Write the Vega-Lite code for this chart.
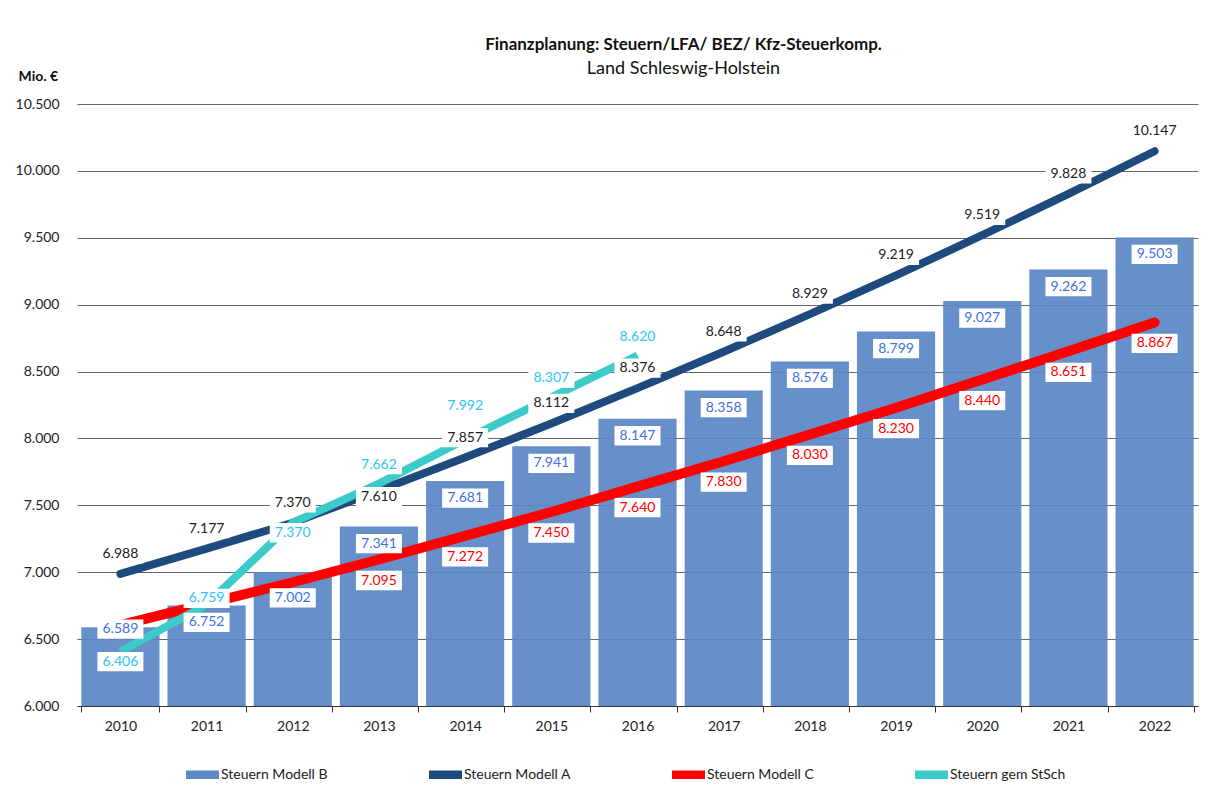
{
  "$schema": "https://vega.github.io/schema/vega-lite/v6.json",
  "width": 1121,
  "height": 602,
  "autosize": {"type": "none"},
  "padding": {"left": 77, "top": 104, "right": 18, "bottom": 85},
  "background": "white",
  "config": {
    "locale": {"number": {"decimal": ",", "thousands": ".", "grouping": [3], "currency": ["", " €"]}},
    "font": "Lato",
    "view": {"stroke": null}
  },
  "title": {
    "text": "Finanzplanung:  Steuern/LFA/ BEZ/ Kfz-Steuerkomp.",
    "subtitle": "Land Schleswig-Holstein",
    "frame": "group",
    "anchor": "middle",
    "dx": 46,
    "offset": -10,
    "font": "Lato",
    "fontSize": 17,
    "fontWeight": "bold",
    "color": "#111111",
    "subtitleFont": "Lato",
    "subtitleFontSize": 18,
    "subtitleColor": "#111111",
    "subtitlePadding": 6
  },
  "data": {
    "values": [
      {"year": 2010, "B": 6589, "A": 6988, "C": 6605, "S": 6406},
      {"year": 2011, "B": 6752, "A": 7177, "C": 6765, "S": 6759},
      {"year": 2012, "B": 7002, "A": 7370, "C": 6925, "S": 7370},
      {"year": 2013, "B": 7341, "A": 7610, "C": 7095, "S": 7662},
      {"year": 2014, "B": 7681, "A": 7857, "C": 7272, "S": 7992},
      {"year": 2015, "B": 7941, "A": 8112, "C": 7450, "S": 8307},
      {"year": 2016, "B": 8147, "A": 8376, "C": 7640, "S": 8620},
      {"year": 2017, "B": 8358, "A": 8648, "C": 7830, "S": null},
      {"year": 2018, "B": 8576, "A": 8929, "C": 8030, "S": null},
      {"year": 2019, "B": 8799, "A": 9219, "C": 8230, "S": null},
      {"year": 2020, "B": 9027, "A": 9519, "C": 8440, "S": null},
      {"year": 2021, "B": 9262, "A": 9828, "C": 8651, "S": null},
      {"year": 2022, "B": 9503, "A": 10147, "C": 8867, "S": null}
    ]
  },
  "encoding": {
    "x": {
      "field": "year",
      "type": "ordinal",
      "scale": {"paddingInner": 0.093, "paddingOuter": 0.05},
      "axis": {
        "title": null,
        "labelAngle": 0,
        "tickBand": "extent",
        "domainColor": "#333333",
        "tickColor": "#333333",
        "tickSize": 6,
        "labelPadding": 7,
        "labelFontSize": 14,
        "labelColor": "#222222",
        "labelFont": "Lato",
        "grid": false
      }
    }
  },
  "layer": [
    {
      "mark": {"type": "bar", "opacity": 0.93},
      "encoding": {
        "y": {
          "field": "B",
          "type": "quantitative",
          "scale": {"domain": [6000, 10500], "zero": false, "nice": false},
          "axis": {
            "title": "Mio. €",
            "titleAngle": 0,
            "titleAlign": "left",
            "titleBaseline": "middle",
            "titleX": -59,
            "titleY": -28,
            "titleFontSize": 14,
            "titleFontWeight": "bold",
            "titleFont": "Lato",
            "titleColor": "#111111",
            "values": [6000, 6500, 7000, 7500, 8000, 8500, 9000, 9500, 10000, 10500],
            "format": ",.0f",
            "domain": false,
            "ticks": false,
            "labelPadding": 18,
            "labelFontSize": 14,
            "labelColor": "#222222",
            "labelFont": "Lato",
            "gridColor": "#666666",
            "gridWidth": 1
          }
        },
        "y2": {"datum": 6000},
        "color": {
          "datum": "Steuern Modell B",
          "type": "nominal",
          "scale": {
            "domain": ["Steuern Modell B", "Steuern Modell A", "Steuern Modell C", "Steuern gem StSch"],
            "range": ["#5B88C6", "#1F4A7E", "#FF0000", "#3CCBC9"]
          },
          "legend": {
            "title": null,
            "orient": "none",
            "legendX": 109,
            "legendY": 654,
            "direction": "horizontal",
            "columns": 4,
            "gridAlign": "all",
            "columnPadding": 92,
            "symbolType": "M-1,-0.26H1V0.26H-1Z",
            "symbolSize": 1089,
            "symbolStrokeWidth": 0,
            "symbolOpacity": 1,
            "labelFont": "Lato",
            "labelFontSize": 14,
            "labelColor": "#222222",
            "labelOffset": 2
          }
        }
      }
    },
    {
      "mark": {"type": "line", "color": "#1F4A7E", "strokeWidth": 8, "strokeCap": "round"},
      "encoding": {"y": {"field": "A", "type": "quantitative"}}
    },
    {
      "mark": {"type": "line", "color": "#FF0000", "strokeWidth": 10, "strokeCap": "round"},
      "encoding": {"y": {"field": "C", "type": "quantitative"}}
    },
    {
      "mark": {"type": "line", "color": "#3CCBC9", "strokeWidth": 8, "strokeCap": "butt"},
      "encoding": {"y": {"field": "S", "type": "quantitative"}}
    },
    {
      "transform": [{"filter": "datum.year != 2010 && datum.year != 2012"}],
      "encoding": {"y": {"field": "B", "type": "quantitative"}},
      "layer": [
        {"mark": {"type": "point", "shape": "M-1,-0.42H1V0.42H-1Z", "size": 2116, "filled": true, "color": "white", "opacity": 1, "yOffset": 17}},
        {"mark": {"type": "text", "color": "#4470E6", "fontSize": 14, "font": "Lato", "baseline": "middle", "yOffset": 17},
         "encoding": {"text": {"field": "B", "type": "quantitative", "format": ",.0f"}}}
      ]
    },
    {
      "transform": [{"filter": "datum.year == 2010"}],
      "encoding": {"y": {"field": "B", "type": "quantitative"}},
      "layer": [
        {"mark": {"type": "point", "shape": "M-1,-0.42H1V0.42H-1Z", "size": 2116, "filled": true, "color": "white", "opacity": 1, "yOffset": 2}},
        {"mark": {"type": "text", "color": "#4470E6", "fontSize": 14, "font": "Lato", "baseline": "middle", "yOffset": 2},
         "encoding": {"text": {"field": "B", "type": "quantitative", "format": ",.0f"}}}
      ]
    },
    {
      "transform": [{"filter": "datum.year == 2012"}],
      "encoding": {"y": {"field": "B", "type": "quantitative"}},
      "layer": [
        {"mark": {"type": "point", "shape": "M-1,-0.42H1V0.42H-1Z", "size": 2116, "filled": true, "color": "white", "opacity": 1, "yOffset": 26}},
        {"mark": {"type": "text", "color": "#4470E6", "fontSize": 14, "font": "Lato", "baseline": "middle", "yOffset": 26},
         "encoding": {"text": {"field": "B", "type": "quantitative", "format": ",.0f"}}}
      ]
    },
    {
      "transform": [{"filter": "datum.year != 2013"}],
      "encoding": {"y": {"field": "A", "type": "quantitative"}},
      "layer": [
        {"mark": {"type": "point", "shape": "M-1,-0.42H1V0.42H-1Z", "size": 2116, "filled": true, "color": "white", "opacity": 1, "yOffset": -20}},
        {"mark": {"type": "text", "color": "#222222", "fontSize": 14, "font": "Lato", "baseline": "middle", "yOffset": -20},
         "encoding": {"text": {"field": "A", "type": "quantitative", "format": ",.0f"}}}
      ]
    },
    {
      "transform": [{"filter": "datum.year == 2013"}],
      "encoding": {"y": {"field": "A", "type": "quantitative"}},
      "layer": [
        {"mark": {"type": "point", "shape": "M-1,-0.42H1V0.42H-1Z", "size": 2116, "filled": true, "color": "white", "opacity": 1, "yOffset": 6}},
        {"mark": {"type": "text", "color": "#222222", "fontSize": 14, "font": "Lato", "baseline": "middle", "yOffset": 6},
         "encoding": {"text": {"field": "A", "type": "quantitative", "format": ",.0f"}}}
      ]
    },
    {
      "transform": [{"filter": "datum.year >= 2013"}],
      "encoding": {"y": {"field": "C", "type": "quantitative"}},
      "layer": [
        {"mark": {"type": "point", "shape": "M-1,-0.42H1V0.42H-1Z", "size": 2116, "filled": true, "color": "white", "opacity": 1, "yOffset": 21}},
        {"mark": {"type": "text", "color": "#FF0000", "fontSize": 14, "font": "Lato", "baseline": "middle", "yOffset": 21},
         "encoding": {"text": {"field": "C", "type": "quantitative", "format": ",.0f"}}}
      ]
    },
    {
      "transform": [{"filter": "datum.S != null && (datum.year == 2010 || datum.year == 2012)"}],
      "encoding": {"y": {"field": "S", "type": "quantitative"}},
      "layer": [
        {"mark": {"type": "point", "shape": "M-1,-0.42H1V0.42H-1Z", "size": 2116, "filled": true, "color": "white", "opacity": 1, "yOffset": 10}},
        {"mark": {"type": "text", "color": "#29C5F6", "fontSize": 14, "font": "Lato", "baseline": "middle", "yOffset": 10},
         "encoding": {"text": {"field": "S", "type": "quantitative", "format": ",.0f"}}}
      ]
    },
    {
      "transform": [{"filter": "datum.S != null && datum.year == 2011"}],
      "encoding": {"y": {"field": "S", "type": "quantitative"}},
      "layer": [
        {"mark": {"type": "point", "shape": "M-1,-0.42H1V0.42H-1Z", "size": 2116, "filled": true, "color": "white", "opacity": 1, "yOffset": -6}},
        {"mark": {"type": "text", "color": "#29C5F6", "fontSize": 14, "font": "Lato", "baseline": "middle", "yOffset": -6},
         "encoding": {"text": {"field": "S", "type": "quantitative", "format": ",.0f"}}}
      ]
    },
    {
      "transform": [{"filter": "datum.S != null && datum.year == 2014"}],
      "encoding": {"y": {"field": "S", "type": "quantitative"}},
      "layer": [
        {"mark": {"type": "point", "shape": "M-1,-0.42H1V0.42H-1Z", "size": 2116, "filled": true, "color": "white", "opacity": 1, "yOffset": -34}},
        {"mark": {"type": "text", "color": "#29C5F6", "fontSize": 14, "font": "Lato", "baseline": "middle", "yOffset": -34},
         "encoding": {"text": {"field": "S", "type": "quantitative", "format": ",.0f"}}}
      ]
    },
    {
      "transform": [{"filter": "datum.S != null && (datum.year == 2013 || datum.year >= 2015)"}],
      "encoding": {"y": {"field": "S", "type": "quantitative"}},
      "layer": [
        {"mark": {"type": "point", "shape": "M-1,-0.42H1V0.42H-1Z", "size": 2116, "filled": true, "color": "white", "opacity": 1, "yOffset": -19}},
        {"mark": {"type": "text", "color": "#29C5F6", "fontSize": 14, "font": "Lato", "baseline": "middle", "yOffset": -19},
         "encoding": {"text": {"field": "S", "type": "quantitative", "format": ",.0f"}}}
      ]
    }
  ]
}
